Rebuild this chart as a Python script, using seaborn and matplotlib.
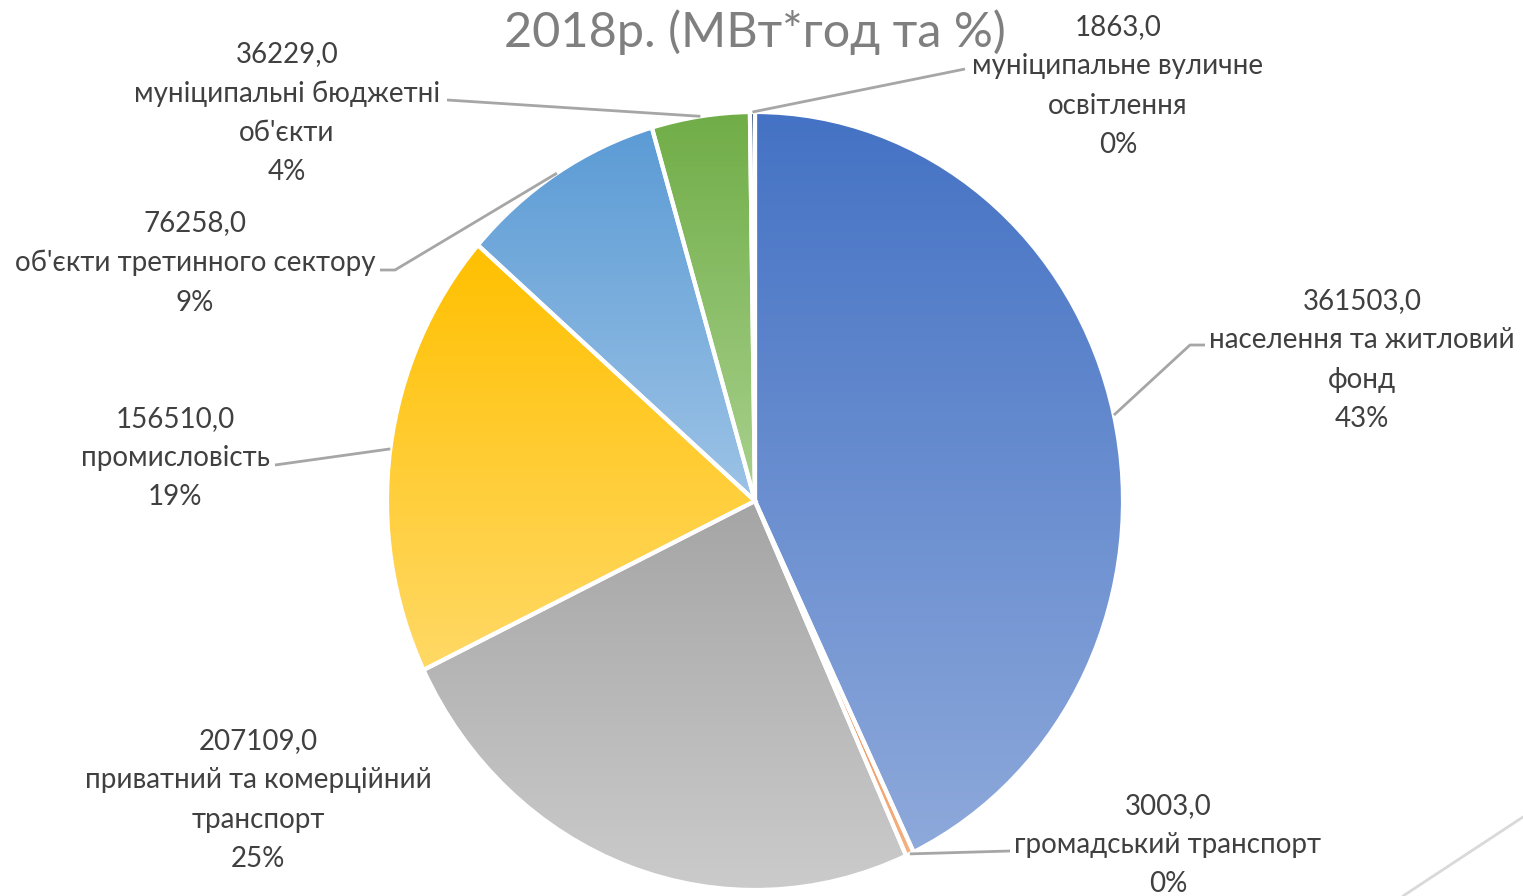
import numpy as np
import matplotlib
matplotlib.use("Agg")
import matplotlib.pyplot as plt
import seaborn as sns
from matplotlib.colors import to_rgb
from matplotlib.lines import Line2D

# ---- data ----
categories = [
    "населення та житловий\nфонд",
    "громадський транспорт",
    "приватний та комерційний\nтранспорт",
    "промисловість",
    "об'єкти третинного сектору",
    "муніципальні бюджетні\nоб'єкти",
    "муніципальне вуличне\nосвітлення",
]
values = [361503, 3003, 207109, 156510, 76258, 36229, 1863]
title = "2018р. (МВт*год та %)"

# ---- style ----
grad_top = ["#4472C4", "#ED7D31", "#A5A5A5", "#FFC000", "#5B9BD5", "#70AD47", "#264478"]
grad_bot = ["#8EA9DB", "#F4B183", "#CBCBCB", "#FFD966", "#9DC3E6", "#A9D18E", "#5B7FBF"]
# label block centres (pixels) and leader elbow points
label_pos = [(1362, 360), (1168, 845), (258, 800), (175, 458), (195, 263), (287, 113), (1118, 86)]
leaders = [
    [(1190, 345), (1205, 345)],
    [(1010, 851)],
    None,
    [(275, 465)],
    [(395, 270), (380, 270)],
    [(447, 100)],
    [(965, 69)],
]

sns.set_theme(style="white")
plt.rcParams["font.family"] = ["Lato", "DejaVu Sans"]

W, H = 1523, 896
fig = plt.figure(figsize=(W / 100, H / 100), dpi=100)
ax = fig.add_axes([0, 0, 1, 1])

CX, CY, RX, RY = 755, 501, 368, 389


def px(x, y):
    return ((x - CX) / RX, (CY - y) / RY)


wedges, _ = ax.pie(values, colors=grad_top, startangle=90, counterclock=False, radius=1,
                   wedgeprops=dict(edgecolor="white", linewidth=3))
ax.set_aspect("auto")

for w, c0, c1 in zip(wedges, grad_top, grad_bot):
    t = np.radians(np.linspace(w.theta1, w.theta2, 200))
    xs = np.r_[0, np.cos(t)]
    ys = np.r_[0, np.sin(t)]
    g = np.linspace(0, 1, 256)[:, None, None]
    arr = (1 - g) * np.array(to_rgb(c0)) + g * np.array(to_rgb(c1))
    im = ax.imshow(arr, extent=(xs.min(), xs.max(), ys.min(), ys.max()), origin="upper",
                   aspect="auto", interpolation="bilinear", zorder=1)
    im.set_clip_path(w)
    w.set_facecolor("none")
    w.set_zorder(2)

total = sum(values)
for w, cat, v, pos, ld in zip(wedges, categories, values, label_pos, leaders):
    pct = round(v / total * 100)
    txt = f"{v:.1f}".replace(".", ",") + "\n" + cat + f"\n{pct}%"
    ax.text(*px(*pos), txt, ha="center", va="center", fontsize=20, color="#404040",
            linespacing=1.63, zorder=5)
    if ld:
        mid = np.radians((w.theta1 + w.theta2) / 2)
        pts = [(np.cos(mid), np.sin(mid))] + [px(*p) for p in ld]
        xs, ys = zip(*pts)
        ax.plot(xs, ys, color="#A6A6A6", lw=2, zorder=4, solid_capstyle="butt")

ax.set_xlim((0 - CX) / RX, (W - CX) / RX)
ax.set_ylim((CY - H) / RY, CY / RY)
ax.axis("off")

fig.text(755 / W, 1 - 32 / H, title, ha="center", va="center", fontsize=35, color="#7F7F7F")
fig.add_artist(Line2D([1403 / W, 1], [0, 1 - 817 / H], transform=fig.transFigure,
                      color="#D9D9D9", lw=2))

fig.savefig("out.png", dpi=100)
